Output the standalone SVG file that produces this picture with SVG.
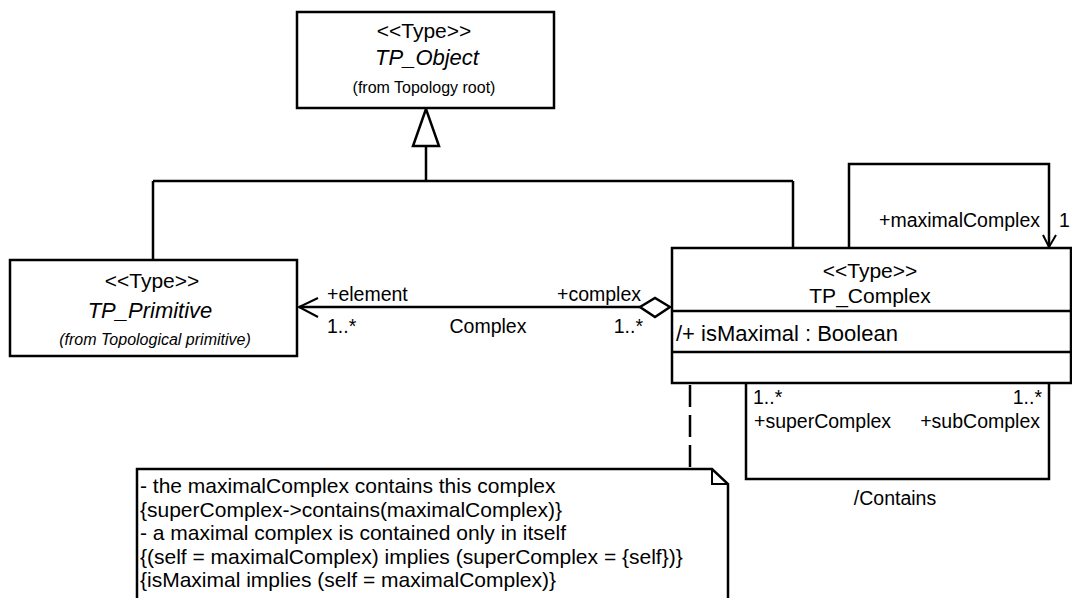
<svg xmlns="http://www.w3.org/2000/svg" width="1072" height="598" viewBox="0 0 1072 598">
<defs>
<style>
text{font-family:"Liberation Sans",Arial,sans-serif;fill:#000}
.box{fill:#fff;stroke:#000;stroke-width:2.5}
.ln{fill:none;stroke:#000;stroke-width:2.5}
.hd{fill:none;stroke:#000;stroke-width:2}
.st{font-size:21px}
.nm{font-size:22px}
.it{font-style:italic}
.fr{font-size:16px}
.lb{font-size:19.5px}
.nt{font-size:21px}
</style>
</defs>
<rect width="1072" height="598" fill="#fff"/>
<g id="connectors">
<path class="ln" d="M426,146 V181 M153,181 H793 M153,181 V260 M793,181 V248"/>
<polygon points="426,109 413,146 439,146" fill="#fff" stroke="#000" stroke-width="2.5"/>
<path class="ln" d="M640,307 H299"/>
<path class="hd" d="M318,298 L299,307 L318,317"/>
<polygon points="670,307 655,298 640,307 655,317" fill="#fff" stroke="#000" stroke-width="2.5"/>
<path class="ln" d="M849,248 V164 H1049 V247"/>
<path class="hd" d="M1043,235 L1049,247 L1056,235"/>
<path class="ln" d="M746,383 V479 H1049 V383"/>
<path class="ln" d="M690,385 V469" stroke-dasharray="22,8"/>
<text class="lb" x="327" y="301">+element</text>
<text class="lb" x="327" y="333">1..*</text>
<text class="lb" x="488" y="333" text-anchor="middle">Complex</text>
<text class="lb" x="641" y="301" text-anchor="end">+complex</text>
<text class="lb" x="643" y="333" text-anchor="end">1..*</text>
<text class="lb" x="1040" y="227" text-anchor="end">+maximalComplex</text>
<text class="lb" x="1059" y="227">1</text>
<text class="lb" x="753" y="404">1..*</text>
<text class="lb" x="754" y="428">+superComplex</text>
<text class="lb" x="1042" y="404" text-anchor="end">1..*</text>
<text class="lb" x="1040" y="428" text-anchor="end">+subComplex</text>
<text class="lb" x="895" y="505" text-anchor="middle">/Contains</text>
</g>
<g id="tp-object">
<rect class="box" x="297" y="12" width="257" height="96"/>
<text class="st" x="424" y="38" text-anchor="middle">&lt;&lt;Type&gt;&gt;</text>
<text class="nm it" x="427" y="65" text-anchor="middle">TP_Object</text>
<text class="fr" x="424" y="93" text-anchor="middle">(from Topology root)</text>
</g>
<g id="tp-primitive">
<rect class="box" x="10" y="260" width="287" height="96"/>
<text class="st" x="152" y="288" text-anchor="middle">&lt;&lt;Type&gt;&gt;</text>
<text class="nm it" x="150" y="318" text-anchor="middle">TP_Primitive</text>
<text class="fr it" x="155" y="345" text-anchor="middle">(from Topological primitive)</text>
</g>
<g id="tp-complex">
<rect class="box" x="672" y="248" width="399" height="135"/>
<path class="ln" d="M672,311 H1071 M672,352 H1071"/>
<text class="st" x="870" y="278" text-anchor="middle">&lt;&lt;Type&gt;&gt;</text>
<text class="st" x="870" y="303" text-anchor="middle">TP_Complex</text>
<text class="nm" x="676" y="341">/+ isMaximal : Boolean</text>
</g>
<g id="note">
<path class="box" d="M137,469 H712 L728,484 V602 H137 Z" stroke-width="2"/>
<path class="hd" d="M712,469 V484 H728"/>
<text class="nt" x="140" y="493">- the maximalComplex contains this complex</text>
<text class="nt" x="140" y="516.5">{superComplex-&gt;contains(maximalComplex)}</text>
<text class="nt" x="140" y="540">- a maximal complex is contained only in itself</text>
<text class="nt" x="140" y="563.5">{(self = maximalComplex) implies (superComplex = {self})}</text>
<text class="nt" x="140" y="587">{isMaximal implies (self = maximalComplex)}</text>
</g>
</svg>
